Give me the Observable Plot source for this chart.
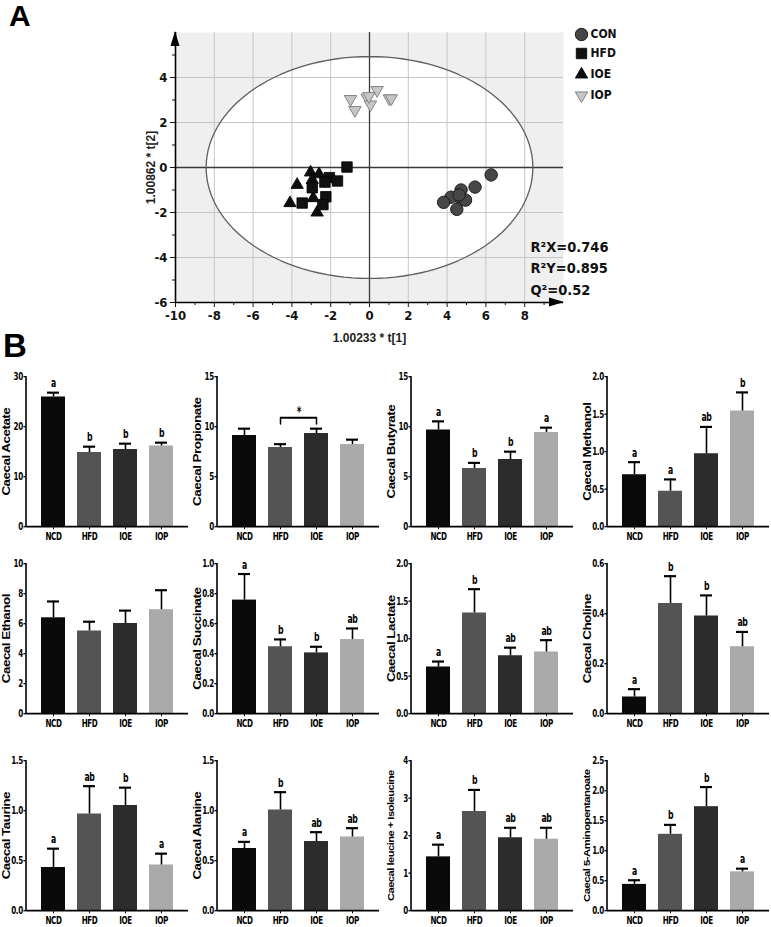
<!DOCTYPE html>
<html>
<head>
<meta charset="utf-8">
<script src="https://cdn.jsdelivr.net/npm/d3@7"></script>
<script src="https://cdn.jsdelivr.net/npm/@observablehq/plot@0.6"></script>
<style>
  html, body { margin: 0; padding: 0; background: #fff; }
  body { width: 771px; height: 927px; overflow: hidden; position: relative; font-family: "Liberation Sans", Arial, sans-serif; }
  #root { position: absolute; left: 0; top: 0; width: 771px; height: 927px; }
  .panel-letter { position: absolute; font-weight: bold; line-height: 1; color: #000; }
</style>
</head>
<body>
<div id="root"></div>
<script>
const NARROW = '"Liberation Sans Narrow","Arial Narrow","DejaVu Sans Condensed",sans-serif';
const SANS = '"Liberation Sans",Arial,Helvetica,sans-serif';

// ---------- Panel A data (OPLS-DA score plot) ----------
const groupsA = ["CON", "HFD", "IOE", "IOP"];
const conX = [6.27, 5.44, 4.72, 4.60, 4.95, 4.20, 3.82, 4.50, 4.62];
const conY = [-0.33, -0.87, -1.00, -1.30, -1.45, -1.32, -1.55, -1.86, -1.22];
const hfdX = [-1.16, -2.07, -1.65, -2.30, -2.95, -2.25, -2.40, -3.47];
const hfdY = [0.02, -0.45, -0.60, -0.65, -0.90, -1.30, -1.65, -1.58];
const ioeX = [-3.04, -2.60, -3.73, -2.95, -2.90, -4.10, -2.70];
const ioeY = [-0.22, -0.30, -0.77, -0.55, -1.36, -1.58, -2.00];
const iopX = [-0.98, -0.75, -0.12, 0.05, 0.39, 1.02, 1.12, -0.03];
const iopY = [3.04, 2.55, 3.10, 2.80, 3.44, 3.07, 3.07, 3.17];
const xTicksA = [-10, -8, -6, -4, -2, 0, 2, 4, 6, 8];
const yTicksA = [-6, -4, -2, 0, 2, 4];
const xMinorA = [-9, -7, -5, -3, -1, 1, 3, 5, 7, 9];
const yMinorA = [-5, -3, -1, 1, 3, 5];
const xGridA = [-8, -6, -4, -2, 2, 4, 6, 8];
const yGridA = [-4, -2, 2, 4];
const ellipseRadii = [8.42, 4.93];
const axisTitlesA = ["1.00233 * t[1]", "1.00862 * t[2]"];
const modelStats = ["R²X=0.746", "R²Y=0.895", "Q²=0.52"];

// ---------- Panel B data (bar charts) ----------
const groupsB = ["NCD", "HFD", "IOE", "IOP"];
const barColors = ["#0a0a0a", "#545454", "#2c2c2c", "#aaaaaa"];
const metabolites = ["Caecal Acetate", "Caecal Propionate", "Caecal Butyrate", "Caecal Methanol",
  "Caecal Ethanol", "Caecal Succinate", "Caecal Lactate", "Caecal Choline",
  "Caecal Taurine", "Caecal Alanine", "Caecal leucine + Isoleucine", "Caecal 5-Aminopentanoate"];
const meanValues = [
  [25.9, 14.8, 15.4, 16.1],
  [9.1, 7.9, 9.3, 8.2],
  [9.65, 5.8, 6.7, 9.4],
  [0.69, 0.47, 0.97, 1.54],
  [6.38, 5.5, 6.0, 6.92],
  [0.756, 0.445, 0.404, 0.493],
  [0.62, 1.34, 0.77, 0.82],
  [0.066, 0.44, 0.39, 0.267],
  [0.43, 0.965, 1.05, 0.455],
  [0.62, 1.005, 0.69, 0.735],
  [1.43, 2.64, 1.94, 1.9],
  [0.435, 1.27, 1.73, 0.644]
];
const errValues = [
  [0.9, 1.2, 1.2, 0.7],
  [0.7, 0.35, 0.5, 0.5],
  [0.88, 0.58, 0.8, 0.5],
  [0.17, 0.16, 0.36, 0.25],
  [1.1, 0.63, 0.87, 1.31],
  [0.175, 0.05, 0.042, 0.075],
  [0.075, 0.32, 0.11, 0.16],
  [0.032, 0.11, 0.083, 0.06],
  [0.19, 0.28, 0.18, 0.115],
  [0.068, 0.18, 0.095, 0.09],
  [0.33, 0.58, 0.27, 0.31],
  [0.072, 0.16, 0.33, 0.056]
];
const sigLetters = [
  ["a", "b", "b", "b"],
  ["", "", "", ""],
  ["a", "b", "b", "a"],
  ["a", "a", "ab", "b"],
  ["", "", "", ""],
  ["a", "b", "b", "ab"],
  ["a", "b", "ab", "ab"],
  ["a", "b", "b", "ab"],
  ["a", "ab", "b", "a"],
  ["a", "b", "ab", "ab"],
  ["a", "b", "ab", "ab"],
  ["a", "b", "b", "a"]
];
const yTickValues = [
  [0, 10, 20, 30], [0, 5, 10, 15], [0, 5, 10, 15], [0, 0.5, 1, 1.5, 2],
  [0, 2, 4, 6, 8, 10], [0, 0.2, 0.4, 0.6, 0.8, 1], [0, 0.5, 1, 1.5, 2], [0, 0.2, 0.4, 0.6],
  [0, 0.5, 1, 1.5], [0, 0.5, 1, 1.5], [0, 1, 2, 3, 4], [0, 0.5, 1, 1.5, 2, 2.5]
];
// significance bracket in the propionate chart (chart index 1)
const bracketGroups = ["HFD", "IOE"];
const bracketLevels = [10.3, 10.9];
const bracketLabel = "*";

// ---------- helpers ----------
const root = document.getElementById("root");
function place(node, left, top, sy = 1) {
  const d = document.createElement("div");
  d.style.cssText = `position:absolute;left:${left}px;top:${top}px;transform-origin:0 0;transform:scaleY(${sy});`;
  d.appendChild(node);
  root.appendChild(d);
}
function letter(txt, left, top, size) {
  const d = document.createElement("div");
  d.className = "panel-letter";
  d.style.cssText = `left:${left}px;top:${top}px;font-size:${size}px;`;
  d.textContent = txt;
  root.appendChild(d);
}
const triangleDown = {
  draw(context, size) {
    const s3 = Math.sqrt(3);
    const y = -Math.sqrt(size / (s3 * 3));
    context.moveTo(0, -y * 2);
    context.lineTo(-s3 * y, y);
    context.lineTo(s3 * y, y);
    context.closePath();
  }
};
const zip = (g, xs, ys) => xs.map((x, i) => ({group: g, x, y: ys[i]}));

// ---------- Panel A ----------
const symbolStyles = {
  CON: {symbol: "circle", r: 6.2, fill: "#474747", stroke: "#1c1c1c", strokeWidth: 1},
  HFD: {symbol: "square", r: 5.9, fill: "#111", stroke: "#000", strokeWidth: 0.8},
  IOE: {symbol: "triangle", r: 4.6, fill: "#0d0d0d", stroke: "#000", strokeWidth: 0.8},
  IOP: {symbol: triangleDown, r: 4.6, fill: "#c6c6c6", stroke: "#858585", strokeWidth: 1}
};
const pointsByGroup = {
  CON: zip("CON", conX, conY),
  HFD: zip("HFD", hfdX, hfdY),
  IOE: zip("IOE", ioeX, ioeY),
  IOP: zip("IOP", iopX, iopY)
};
const ellipsePts = d3.range(0, 361, 3).map(a => ({
  x: ellipseRadii[0] * Math.cos(a * Math.PI / 180),
  y: ellipseRadii[1] * Math.sin(a * Math.PI / 180)
}));
const axisArrows = (index, scales, values, dims) => {
  const l = dims.marginLeft, t = dims.marginTop, r = dims.width - dims.marginRight, b = dims.height - dims.marginBottom;
  const g = d3.create("svg:g").attr("fill", "#000");
  g.append("path").attr("d", `M${l},${t - 1}L${l - 4.5},${t + 14}L${l + 4.5},${t + 14}Z`);
  g.append("path").attr("d", `M${r + 1},${b}L${r - 14},${b - 4.5}L${r - 14},${b + 4.5}Z`);
  return g.node();
};
const legendDy = [2, 21, 42, 63];

const plotA = Plot.plot({
  width: 771, height: 350,
  marginLeft: 175, marginRight: 208, marginTop: 32, marginBottom: 48,
  style: {fontFamily: NARROW, fontSize: "13px", fontWeight: "bold", color: "#111", background: "transparent", overflow: "visible"},
  x: {domain: [-10, 10]},
  y: {domain: [-6, 6]},
  marks: [
    Plot.frame({fill: "#efefef", stroke: "none"}),
    Plot.line(ellipsePts, {x: "x", y: "y", fill: "#fff", stroke: "none"}),
    Plot.ruleX(xGridA, {stroke: "#c6c6c6", strokeWidth: 1}),
    Plot.ruleY(yGridA, {stroke: "#c6c6c6", strokeWidth: 1}),
    Plot.ruleX([0], {stroke: "#3a3a3a", strokeWidth: 1.3}),
    Plot.ruleY([0], {stroke: "#3a3a3a", strokeWidth: 1.3}),
    Plot.line(ellipsePts, {x: "x", y: "y", stroke: "#5e5e5e", strokeWidth: 1.3}),
    Plot.ruleX([xTicksA[0]], {stroke: "#000", strokeWidth: 1.6}),
    Plot.ruleY([yTicksA[0]], {stroke: "#000", strokeWidth: 1.6}),
    Plot.axisX(xTicksA, {tickSize: 5, tickPadding: 3, tickFormat: d => String(d), label: null}),
    Plot.axisX(xMinorA, {tickSize: 3, tickFormat: () => "", label: null}),
    Plot.axisY(yTicksA, {tickSize: 5, tickPadding: 3, tickFormat: d => String(d), label: null}),
    Plot.axisY(yMinorA, {tickSize: 3, tickFormat: () => "", label: null}),
    axisArrows,
    ...["IOP", "CON", "IOE", "HFD"].map(g => Plot.dot(pointsByGroup[g], {x: "x", y: "y", ...symbolStyles[g]})),
    Plot.text([axisTitlesA[0]], {frameAnchor: "bottom", textAnchor: "middle", lineAnchor: "middle", dy: 36, fontFamily: SANS, fontSize: 12, fontWeight: "bold", fill: "#222"}),
    Plot.text([axisTitlesA[1]], {frameAnchor: "left", textAnchor: "middle", lineAnchor: "middle", rotate: -90, dx: -24, fontFamily: SANS, fontSize: 12, fontWeight: "bold", fill: "#222"}),
    ...modelStats.map((s, i) => Plot.text([s], {frameAnchor: "bottom-right", textAnchor: "start", lineAnchor: "middle", dx: -33, dy: [-55, -34, -12][i], fontSize: 14.5, fontWeight: "bold", fill: "#111"})),
    ...groupsA.map((g, k) => Plot.dot([g], {frameAnchor: "top-right", dx: 18, dy: legendDy[k], ...symbolStyles[g]})),
    ...groupsA.map((g, k) => Plot.text([g], {frameAnchor: "top-right", dx: 27, dy: legendDy[k], textAnchor: "start", lineAnchor: "middle", fontSize: 12, fill: "#111"}))
  ]
});
place(plotA, 0, 0);
letter("A", 9, 1, 30);
letter("B", 3, 329, 33);

// ---------- Panel B ----------
// The GraphPad panels in the figure are vertically stretched; reproduce that with scaleY.
const SY = 1.35;
const colLeft = [0, 191, 385, 581];
const rowTop = [362, 549, 746];
const chartW = 188, chartH = 181 / SY;
const mL = 26, mR = 0, mT = 14 / SY, mB = 17 / SY;
const plotInnerH = chartH - mT - mB;
const padIn = 0.32, padOut = 0.35;
const step = (chartW - mL - mR) / (groupsB.length - padIn + 2 * padOut);

const measureCtx = document.createElement("canvas").getContext("2d");
measureCtx.font = `bold 100px ${SANS}`;
const labelSize = (txt) => Math.min(10, (plotInnerH * 0.97) / (measureCtx.measureText(txt).width / 100));

const yAxisLine = (index, scales, values, dims) =>
  d3.create("svg:line")
    .attr("x1", dims.marginLeft).attr("x2", dims.marginLeft)
    .attr("y1", dims.marginTop).attr("y2", dims.height - dims.marginBottom + 0.7)
    .attr("stroke", "#000").attr("stroke-width", 1.6).node();

metabolites.forEach((name, i) => {
  const rows = groupsB.map((g, j) => ({group: g, mean: meanValues[i][j], err: errValues[i][j], letter: sigLetters[i][j]}));
  const ticks = yTickValues[i];
  const dec = ticks.some(t => !Number.isInteger(t));
  const fmt = dec ? d3.format(".1f") : d3.format("d");
  const marks = [
    Plot.barY(rows, {x: "group", y: "mean", fill: "group"}),
    Plot.ruleX(rows, {x: "group", y1: "mean", y2: d => d.mean + d.err, stroke: "#000", strokeWidth: 1.6}),
    Plot.tickY(rows, {x: "group", y: d => d.mean + d.err, stroke: "#000", strokeWidth: 1.6, insetLeft: 6, insetRight: 6}),
    Plot.text(rows, {x: "group", y: d => d.mean + d.err, text: "letter", dy: -6.8, fontSize: 8.6}),
    Plot.ruleY([0], {stroke: "#000", strokeWidth: 1.35}),
    yAxisLine,
    Plot.text([name], {frameAnchor: "left", textAnchor: "middle", lineAnchor: "middle", rotate: -90, dx: -20, fontFamily: SANS, fontSize: labelSize(name), fontWeight: "bold", fill: "#000"})
  ];
  if (i === 1) {
    const pts = [
      {group: bracketGroups[0], v: bracketLevels[0]},
      {group: bracketGroups[0], v: bracketLevels[1]},
      {group: bracketGroups[1], v: bracketLevels[1]},
      {group: bracketGroups[1], v: bracketLevels[0]}
    ];
    marks.push(Plot.line(pts, {x: "group", y: "v", stroke: "#000", strokeWidth: 1.5}));
    marks.push(Plot.text([bracketLabel], {x: () => bracketGroups[0], y: () => bracketLevels[1], dx: step / 2, dy: -4.5, fontSize: 10}));
  }
  const svg = Plot.plot({
    width: chartW, height: chartH,
    marginLeft: mL, marginRight: mR, marginTop: mT, marginBottom: mB,
    style: {fontFamily: NARROW, fontSize: "8px", fontWeight: "bold", letterSpacing: "-0.4px", color: "#000", background: "transparent", overflow: "visible"},
    x: {domain: groupsB, paddingInner: padIn, paddingOuter: padOut, label: null, tickSize: 2.5, tickPadding: 1.5},
    y: {domain: [0, d3.max(ticks)], ticks: ticks, tickFormat: fmt, tickSize: 2.5, tickPadding: 1.2, label: null},
    color: {domain: groupsB, range: barColors},
    marks
  });
  place(svg, colLeft[i % 4], rowTop[Math.floor(i / 4)], SY);
});
</script>
</body>
</html>
